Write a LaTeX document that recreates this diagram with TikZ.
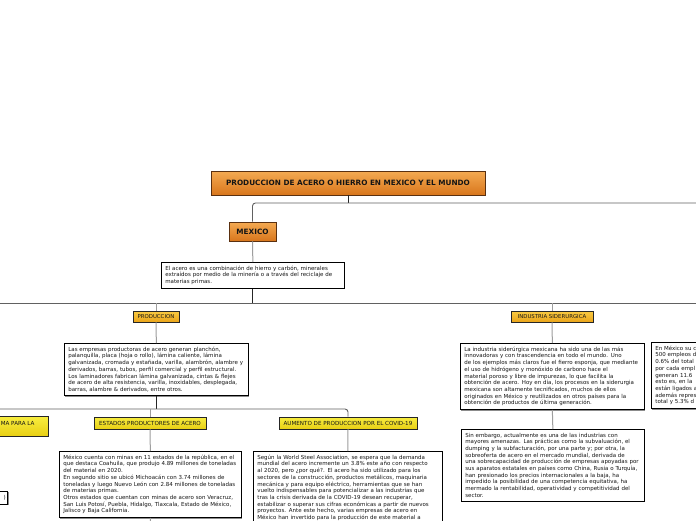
\documentclass[tikz,border=0pt]{standalone}
\usepackage{fontspec}
\setmainfont{DejaVu Sans}
\usetikzlibrary{shadows}
\definecolor{orTop}{HTML}{F4AA52}
\definecolor{orBot}{HTML}{D8761C}
\definecolor{orEdge}{HTML}{5A3010}
\definecolor{gdTop}{HTML}{F9CB42}
\definecolor{gdBot}{HTML}{EAA41A}
\definecolor{ywTop}{HTML}{F8EE40}
\definecolor{ywBot}{HTML}{E8CF14}
\definecolor{txt}{HTML}{151515}
\tikzset{
  hdr/.style={draw=#1, line width=0.7pt, inner sep=0pt, text=txt},
  titlebox/.style={hdr=orEdge, top color=orTop, bottom color=orBot, font=\bfseries\fontsize{7.3}{8}\selectfont},
  goldbox/.style={hdr=black!85, top color=gdTop, bottom color=gdBot, font=\fontsize{5.4}{6}\selectfont},
  ylwbox/.style={hdr=black!85, top color=ywTop, bottom color=ywBot, font=\fontsize{5.6}{6.4}\selectfont},
  txtbox/.style={draw=black, line width=0.7pt, fill=white, align=left, text=txt,
    font=\fontsize{5.5}{6.7}\selectfont, inner xsep=4pt, inner ysep=3.5pt, anchor=north west,
    drop shadow={shadow xshift=1.1pt, shadow yshift=-1.1pt, fill=black!45, opacity=1}},
  dk/.style={draw=black!85, line width=0.9pt},
  md/.style={draw=black!62, line width=0.9pt},
  lt/.style={draw=black!38, line width=1pt}
}
\begin{document}
\begin{tikzpicture}[x=1pt,y=-1pt]
\useasboundingbox (0,0) rectangle (696,520);
\fill[white] (0,0) rectangle (696,520);

% coordinates of buses
\coordinate (b0R) at (705,203);
\coordinate (b1L) at (-5,303);
\coordinate (b1R) at (705,303);
\coordinate (b2L) at (-5,409);
\coordinate (eBot) at (150,530);

% header nodes
\node[titlebox, minimum width=274pt, minimum height=24pt] (title) at (348,183)
  {PRODUCCION DE ACERO O HIERRO EN MEXICO Y EL MUNDO};
\node[titlebox, minimum width=47pt, minimum height=19pt] (mexico) at (252.5,231.5) {MEXICO};

\node[txtbox, text width=175pt] (t1) at (161,262)
  {El acero es una combinación de hierro y carbón, minerales\\
   extraídos por medio de la minería o a través del reciclaje de\\
   materias primas.};

\node[goldbox, minimum width=46pt, minimum height=11pt] (prod) at (156,316.5) {PRODUCCION};
\node[goldbox, minimum width=82pt, minimum height=11pt] (ind) at (552,316.5) {INDUSTRIA SIDERURGICA};

\node[txtbox, text width=176pt] (t2) at (64,343)
  {Las empresas productoras de acero generan planchón,\\
   palanquilla, placa (hoja o rollo), lámina caliente, lámina\\
   galvanizada, cromada y estañada, varilla, alambrón, alambre y\\
   derivados, barras, tubos, perfil comercial y perfil estructural.\\
   Los laminadores fabrican lámina galvanizada, cintas \& flejes\\
   de acero de alta resistencia, varilla, inoxidables, desplegada,\\
   barras, alambre \& derivados, entre otros.};

\node[txtbox, text width=176pt] (t3) at (460,343)
  {La industria siderúrgica mexicana ha sido una de las más\\
   innovadoras y con trascendencia en todo el mundo. Uno\\
   de los ejemplos más claros fue el fierro esponja, que mediante\\
   el uso de hidrógeno y monóxido de carbono hace el\\
   material poroso y libre de impurezas, lo que facilita la\\
   obtención de acero. Hoy en día, los procesos en la siderurgia\\
   mexicana son altamente tecnificados, muchos de ellos\\
   originados en México y reutilizados en otros países para la\\
   obtención de productos de última generación.};

\node[txtbox, text width=175pt] (t4) at (461,429)
  {Sin embargo, actualmente es una de las industrias con\\
   mayores amenazas. Las prácticas como la subvaluación, el\\
   dumping y la subfacturación, por una parte y; por otra, la\\
   sobreoferta de acero en el mercado mundial, derivada de\\
   una sobrecapacidad de producción de empresas apoyadas por\\
   sus aparatos estatales en países como China, Rusia o Turquía,\\
   han presionado los precios internacionales a la baja, ha\\
   impedido la posibilidad de una competencia equitativa, ha\\
   mermado la rentabilidad, operatividad y competitividad del\\
   sector.};

\node[txtbox, text width=181pt] (r1) at (651,342)
  {En México su c\\
   500 empleos d\\
   0.6\% del total\\
   por cada empl\\
   generan 11.6\\
   esto es, en la\\
   están ligados a\\
   además repres\\
   total y 5.3\% d};

\node[ylwbox, minimum width=112pt, minimum height=12pt] (est) at (150,423) {ESTADOS PRODUCTORES DE ACERO};
\node[ylwbox, minimum width=138pt, minimum height=12pt] (aum) at (348,423) {AUMENTO DE PRODUCCION POR EL COVID-19};
\node[ylwbox, minimum width=110pt, minimum height=20pt, anchor=east] (lp) at (49,426) {};
\node[font=\fontsize{5.6}{6.4}\selectfont, text=txt, anchor=west, inner sep=0pt] (lpt) at (0.6,423) {MA PARA LA};

\node[draw=black, line width=0.7pt, fill=white, minimum width=40pt, minimum height=13pt, anchor=north east,
  drop shadow={shadow xshift=1pt, shadow yshift=-1pt, fill=black!45, opacity=1}] (lx) at (8,491) {};
\node[font=\fontsize{5.5}{6.7}\selectfont, text=txt, anchor=east, inner sep=0pt] (lxt) at (6,497.5) {)};

\node[txtbox, text width=174pt] (test) at (59,451)
  {México cuenta con minas en 11 estados de la república, en el\\
   que destaca Coahuila, que produjo 4.89 millones de toneladas\\
   del material en 2020.\\
   En segundo sitio se ubicó Michoacán con 3.74 millones de\\
   toneladas y luego Nuevo León con 2.84 millones de toneladas\\
   de materias primas.\\
   Otros estados que cuentan con minas de acero son Veracruz,\\
   San Luis Potosí, Puebla, Hidalgo, Tlaxcala, Estado de México,\\
   Jalisco y Baja California.};

\node[txtbox, text width=181pt] (taum) at (253,451)
  {Según la World Steel Association, se espera que la demanda\\
   mundial del acero incremente un 3.8\% este año con respecto\\
   al 2020, pero ¿por qué?. El acero ha sido utilizado para los\\
   sectores de la construcción, productos metálicos, maquinaria\\
   mecánica y para equipo eléctrico, herramientas que se han\\
   vuelto indispensables para potencializar a las industrias que\\
   tras la crisis derivada de la COVID-19 desean recuperar,\\
   estabilizar o superar sus cifras económicas a partir de nuevos\\
   proyectos. Ante este hecho, varias empresas de acero en\\
   México han invertido para la producción de este material a};

% connectors
\draw[dk] (title.south) -- (title.south |- b0R);
\draw[md, rounded corners=3pt] (mexico.north) |- (b0R);
\draw[lt] (mexico.south) -- (t1.north);
\draw[dk] (t1.south) -- (t1.south |- b1L);
\draw[md] (b1L) -- (b1R);
\draw[lt] (prod.north |- b1L) -- (prod.north);
\draw[lt] (ind.north |- b1L) -- (ind.north);
\draw[lt] (prod.south) -- (t2.north);
\draw[lt] (ind.south) -- (t3.north);
\draw[lt] (t3.south) -- (t4.north);
\draw[dk] (t2.south) -- (t2.south |- b2L);
\draw[md, rounded corners=3pt] (b2L) -| (aum.north);
\draw[lt] (est.north |- b2L) -- (est.north);
\draw[lt] (est.south) -- (test.north);
\draw[lt] (aum.south) -- (taum.north);
\draw[lt] (test.south) -- (eBot);
\end{tikzpicture}
\end{document}
